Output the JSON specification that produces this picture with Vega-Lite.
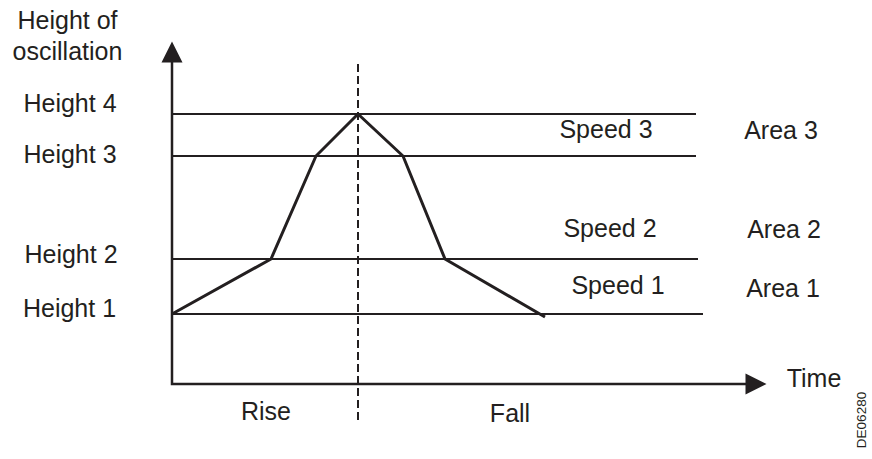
{
  "$schema": "https://vega.github.io/schema/vega-lite/v6.json",
  "width": 872,
  "height": 459,
  "autosize": {"type": "fit", "contains": "padding"},
  "padding": 0,
  "background": "white",
  "config": {"view": {"stroke": null}},
  "datasets": {
    "levels": [
      {"level": "Height 4", "t": 0, "t2": 524, "h": 270},
      {"level": "Height 3", "t": 0, "t2": 524, "h": 228},
      {"level": "Height 2", "t": 0, "t2": 526, "h": 125},
      {"level": "Height 1", "t": 0, "t2": 531, "h": 70}
    ],
    "profile": [
      {"t": 0, "h": 70},
      {"t": 99, "h": 125},
      {"t": 144, "h": 228},
      {"t": 186, "h": 270},
      {"t": 231, "h": 228},
      {"t": 273, "h": 125},
      {"t": 373, "h": 67}
    ],
    "divider": [{"t": 186, "h": -36, "h2": 322}],
    "axes": [
      {"i": 1, "t": 0, "h": 322},
      {"i": 2, "t": 0, "h": 0},
      {"i": 3, "t": 574, "h": 0}
    ],
    "arrows": [
      {"dir": "up", "t": 0, "h": 332},
      {"dir": "right", "t": 584, "h": 0}
    ],
    "labels": [
      {"label": "Height of", "t": -104.5, "h": 355},
      {"label": "oscillation", "t": -104.5, "h": 324},
      {"label": "Height 4", "t": -102, "h": 272},
      {"label": "Height 3", "t": -102, "h": 221},
      {"label": "Height 2", "t": -101, "h": 121},
      {"label": "Height 1", "t": -102.5, "h": 67},
      {"label": "Speed 3", "t": 434, "h": 246},
      {"label": "Speed 2", "t": 438, "h": 147},
      {"label": "Speed 1", "t": 446, "h": 90},
      {"label": "Area 3", "t": 609, "h": 245},
      {"label": "Area 2", "t": 612, "h": 146},
      {"label": "Area 1", "t": 611, "h": 87},
      {"label": "Time", "t": 642, "h": -3},
      {"label": "Rise", "t": 94, "h": -36},
      {"label": "Fall", "t": 338, "h": -38}
    ],
    "code": [{"label": "DE06280", "t": 690, "h": -36}]
  },
  "encoding": {
    "x": {"field": "t", "type": "quantitative", "scale": {"domain": [-172, 700], "nice": false, "zero": false}, "axis": null},
    "y": {"field": "h", "type": "quantitative", "scale": {"domain": [-75, 384], "nice": false, "zero": false}, "axis": null}
  },
  "layer": [
    {
      "data": {"name": "levels"},
      "mark": {"type": "rule", "color": "#231f20", "strokeWidth": 2},
      "encoding": {"x2": {"field": "t2"}}
    },
    {
      "data": {"name": "divider"},
      "mark": {"type": "rule", "color": "#231f20", "strokeWidth": 2, "strokeDash": [8, 4]},
      "encoding": {"y2": {"field": "h2"}}
    },
    {
      "data": {"name": "axes"},
      "mark": {"type": "line", "color": "#231f20", "strokeWidth": 2.5, "strokeJoin": "miter"},
      "encoding": {"order": {"field": "i", "type": "quantitative"}}
    },
    {
      "data": {"name": "profile"},
      "mark": {"type": "line", "color": "#231f20", "strokeWidth": 3, "strokeJoin": "miter"},
      "encoding": {}
    },
    {
      "data": {"name": "arrows"},
      "transform": [{"filter": "datum.dir === 'up'"}],
      "mark": {"type": "point", "shape": "M-1,1L1,1L0,-1Z", "filled": true, "color": "#231f20", "opacity": 1, "size": 441}
    },
    {
      "data": {"name": "arrows"},
      "transform": [{"filter": "datum.dir === 'right'"}],
      "mark": {"type": "point", "shape": "M-1,-1L1,0L-1,1Z", "filled": true, "color": "#231f20", "opacity": 1, "size": 441}
    },
    {
      "data": {"name": "labels"},
      "mark": {"type": "text", "font": "Liberation Sans", "fontSize": 25, "color": "#231f20", "align": "center", "baseline": "alphabetic"},
      "encoding": {"text": {"field": "label"}}
    },
    {
      "data": {"name": "code"},
      "mark": {"type": "text", "font": "Liberation Sans", "fontSize": 13.5, "color": "#231f20", "align": "center", "baseline": "middle", "angle": 270},
      "encoding": {"text": {"field": "label"}}
    }
  ]
}
